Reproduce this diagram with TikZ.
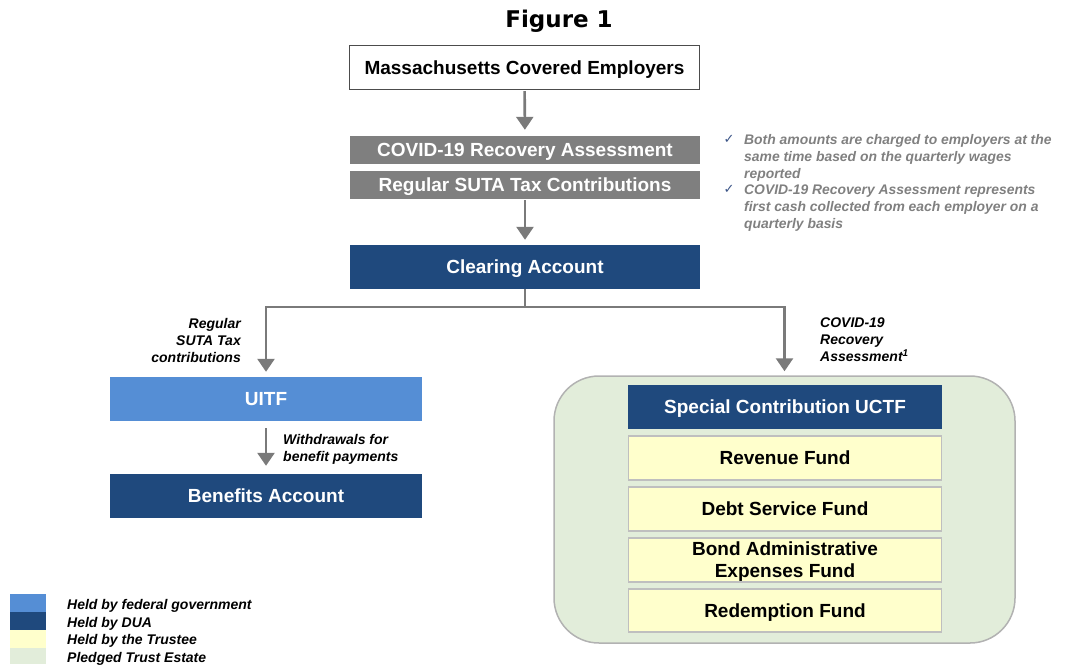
\documentclass[tikz,border=0pt]{standalone}
\usepackage{fontspec}
\setmainfont{Liberation Sans}
\newfontfamily\titlefont{DejaVu Sans}
\newfontfamily\checkfont{DejaVu Sans}
\usetikzlibrary{arrows.meta}

\definecolor{duablue}{RGB}{31,73,125}
\definecolor{fedblue}{RGB}{85,142,213}
\definecolor{boxgray}{RGB}{127,127,127}
\definecolor{arrowgray}{RGB}{122,122,122}
\definecolor{trusteeyellow}{RGB}{255,255,204}
\definecolor{estategreen}{RGB}{226,237,218}
\definecolor{notegray}{RGB}{128,128,128}
\definecolor{checkblue}{RGB}{60,85,135}

\tikzset{
  bigtext/.style={font=\bfseries\fontsize{19}{22}\selectfont,text height=13.6pt,text depth=0pt},
  bluebox/.style={bigtext,fill=duablue,text=white,minimum height=44pt,inner sep=0pt},
  fedbox/.style={bigtext,fill=fedblue,text=white,minimum height=44pt,inner sep=0pt},
  graybox/.style={bigtext,fill=boxgray,text=white,minimum width=350pt,minimum height=28pt,inner sep=0pt},
  fundbox/.style={bigtext,fill=trusteeyellow,draw=black!25,line width=1.2pt,minimum width=313pt,minimum height=44pt,inner sep=0pt,align=center},
  flowlabel/.style={font=\bfseries\itshape\fontsize{14}{17}\selectfont,inner sep=0pt},
  note/.style={font=\bfseries\itshape\fontsize{13.9}{16.9}\selectfont,text=notegray,inner sep=0pt,align=left},
  tick/.style={font=\checkfont\fontsize{13}{15}\selectfont,text=checkblue,inner sep=0pt},
  flow/.style={draw=arrowgray,line width=2.6pt,-{Triangle[length=13pt,width=17pt]}}
}

\begin{document}
\begin{tikzpicture}[x=1pt,y=-1pt]
  \useasboundingbox (0,0) rectangle (1091,664);
  \node[font=\titlefont\bfseries\fontsize{23}{27}\selectfont,text height=16.8pt,text depth=0pt,inner sep=0pt] (title) at (559,19) {Figure 1};

  % employers and the two charges
  \node[bigtext,draw=black!70,line width=1.4pt,fill=white,minimum width=350pt,minimum height=44pt,inner sep=0pt] (mass) at (524.5,67.5) {Massachusetts Covered Employers};
  \node[graybox] (covid) at (525,150) {COVID-19 Recovery Assessment};
  \node[graybox] (suta) at (525,185) {Regular SUTA Tax Contributions};
  \node[bluebox,minimum width=350pt] (clearing) at (525,267) {Clearing Account};

  % notes next to the charges
  \node[tick] (check1) at (729,139) {✓};
  \node[tick] (check2) at (729,189) {✓};
  \node[note,anchor=north west] (note1) at (744,134) {Both amounts are charged to employers at the\\same time based on the quarterly wages\\reported};
  \node[note,anchor=north west] (note2) at (744,184.5) {COVID-19 Recovery Assessment represents\\first cash collected from each employer on a\\quarterly basis};

  % left side: federal trust fund
  \node[fedbox,minimum width=312pt] (uitf) at (266,399) {UITF};
  \node[bluebox,minimum width=312pt] (benefits) at (266,496) {Benefits Account};

  % right side: pledged trust estate
  \node[fill=estategreen,draw=black!30,line width=1.5pt,rounded corners=45pt,minimum width=461pt,minimum height=267pt] (trust) at (784.5,509.5) {};
  \node[bluebox,minimum width=314pt] (uctf) at (785,407) {Special Contribution UCTF};
  \node[fundbox] (revenue) at (785,458) {Revenue Fund};
  \node[fundbox] (debt) at (785,509) {Debt Service Fund};
  \node[fundbox,text height=35.6pt] (bondadmin) at (785,560) {Bond Administrative\\Expenses Fund};
  \node[fundbox,minimum height=43pt] (redemption) at (785,610.5) {Redemption Fund};

  % flows
  \coordinate (split) at (525,307);
  \draw[flow,shorten <=1pt,shorten >=6pt] (mass) -- (covid);
  \draw[flow,shorten <=1pt,shorten >=5pt] (suta) -- (clearing);
  \draw[draw=arrowgray,line width=2.6pt] (clearing.south) -- (split);
  \draw[flow,shorten >=5pt] (split) -| (uitf.north);
  \draw[flow,shorten >=4pt] (split) -| (trust.north);
  \draw[flow,shorten <=7pt,shorten >=8pt] (uitf) -- (benefits);

  \node[flowlabel,anchor=north east,align=right] (sutalabel) at (241,318) {Regular\\SUTA Tax\\contributions};
  \node[flowlabel,anchor=north west,align=left] (covidlabel) at (820,318) {COVID-19\\Recovery\\Assessment\textsuperscript{1}};
  \node[flowlabel,anchor=north west,align=left] (withdrawlabel) at (283,434) {Withdrawals for\\benefit payments};

  % legend
  \fill[fedblue] (10,594) rectangle (46,612);
  \fill[duablue] (10,612) rectangle (46,630);
  \fill[trusteeyellow] (10,630) rectangle (46,648);
  \fill[estategreen] (10,648) rectangle (46,664);
  \node[flowlabel,font=\bfseries\itshape\fontsize{14}{17.7}\selectfont,anchor=north west,align=left] (legend) at (67,599) {Held by federal government\\Held by DUA\\Held by the Trustee\\Pledged Trust Estate};
\end{tikzpicture}
\end{document}
